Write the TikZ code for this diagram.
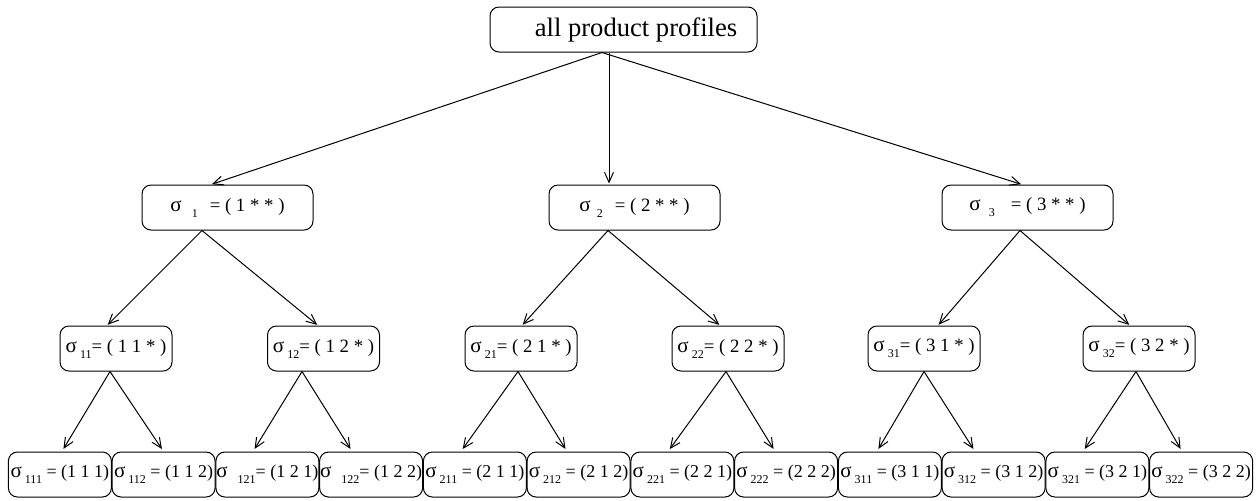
\documentclass[tikz,border=0pt]{standalone}
\usepackage{fontspec}
\setmainfont{Liberation Serif}
\usetikzlibrary{arrows.meta}
\newcommand{\idx}[1]{\raisebox{-0.7ex}{\fontsize{6}{6}\selectfont #1}}
\newcommand{\sig}{{\fontsize{10.5}{12}\selectfont σ}}
\tikzstyle{box} = [draw, rounded corners=4.5pt, inner sep=0pt, minimum height=22.5pt, font=\fontsize{9.4}{11}\selectfont]
\tikzstyle{mid} = [box, minimum width=56pt]
\tikzstyle{leaf} = [box, minimum width=51.5pt, font=\fontsize{9}{11}\selectfont]
\tikzset{
  branch/.style ={draw, line width=0.5pt, shorten >=0.5pt, -{Straight Barb[length=5pt,width=4.5pt]}}
}

\begin{document}
\begin{tikzpicture}[x=0.5pt,y=-0.5pt,line width=0.5pt]
	\useasboundingbox (0,0) rectangle (1256,500);
	\node[box, minimum width=133.5pt, font=\fontsize{13.3}{16}\selectfont] (root) at (623.5,29.5) {\hspace*{12.5pt}all product profiles};
	% first position
	\node[box, minimum width=85.5pt] (s1) at (227.5,207.5) {\sig\hspace{5pt}\idx{1}\hspace{6pt}= ( 1 * * )};
	\node[box, minimum width=85.5pt] (s2) at (634.5,207.5) {\sig\hspace{3pt}\idx{2}\hspace{6pt}= ( 2 * * )};
	\node[box, minimum width=85.5pt] (s3) at (1027.5,207.5) {\sig\hspace{4pt}\idx{3}\hspace{8pt}= ( 3 * * )};
	% second position
	\node[mid] (s11) at (116,348.5) {\sig\,\idx{11}= ( 1 1 * )};
	\node[mid] (s12) at (323.5,348.5) {\sig\,\idx{12}= ( 1 2 * )};
	\node[mid] (s21) at (521,348.5) {\sig\,\idx{21}= ( 2 1 * )};
	\node[mid] (s22) at (728,348.5) {\sig\,\idx{22}= ( 2 2 * )};
	\node[mid] (s31) at (924,348.5) {\sig\,\idx{31}= ( 3 1 * )};
	\node[mid] (s32) at (1139,348.5) {\sig\,\idx{32}= ( 3 2 * )};
	% third position
	\node[leaf] (s111) at (59.9,474.5) {\sig\,\idx{111} = (1 1 1)};
	\node[leaf] (s112) at (163.6,474.5) {\sig\,\idx{112} = (1 1 2)};
	\node[leaf] (s121) at (267.4,474.5) {\sig\hspace{5pt}\idx{121}= (1 2 1)};
	\node[leaf] (s122) at (371.1,474.5) {\sig\hspace{5pt}\idx{122}= (1 2 2)};
	\node[leaf] (s211) at (474.9,474.5) {\sig\,\idx{211} = (2 1 1)};
	\node[leaf] (s212) at (578.6,474.5) {\sig\,\idx{212} = (2 1 2)};
	\node[leaf] (s221) at (682.4,474.5) {\sig\,\idx{221} = (2 2 1)};
	\node[leaf] (s222) at (786.1,474.5) {\sig\,\idx{222} = (2 2 2)};
	\node[leaf] (s311) at (889.9,474.5) {\sig\,\idx{311} = (3 1 1)};
	\node[leaf] (s312) at (993.6,474.5) {\sig\,\idx{312} = (3 1 2)};
	\node[leaf] (s321) at (1097.4,474.5) {\sig\,\idx{321} = (3 2 1)};
	\node[leaf] (s322) at (1201.1,474.5) {\sig\,\idx{322} = (3 2 2)};

	\draw[branch] ([xshift=-10.75pt]root.south) -- ([xshift=-8.25pt]s1.north);
	\draw[branch] ([xshift=-7.25pt]root.south) -- ([xshift=-12.75pt]s2.north);
	\draw[branch] ([xshift=-10.75pt]root.south) -- ([xshift=-2.75pt]s3.north);

	\draw[branch] ([xshift=-12.75pt]s1.south) -- ([xshift=-4.5pt]s11.north);
	\draw[branch] ([xshift=-12.75pt]s1.south) -- ([xshift=-2.75pt]s12.north);
	\draw[branch] ([xshift=-13.25pt]s2.south) -- ([xshift=0.5pt]s21.north);
	\draw[branch] ([xshift=-13.25pt]s2.south) -- ([xshift=-4pt]s22.north);
	\draw[branch] ([xshift=-3.75pt]s3.south) -- ([xshift=7pt]s31.north);
	\draw[branch] ([xshift=-3.75pt]s3.south) -- ([xshift=-4.5pt]s32.north);

	\draw[branch, shorten >=1.5pt] ([xshift=-3pt]s11.south) -- ([xshift=1pt]s111.north);
	\draw[branch, shorten >=1.5pt] ([xshift=-3pt]s11.south) -- ([xshift=0pt]s112.north);
	\draw[branch, shorten >=1.5pt] ([xshift=-10.75pt]s12.south) -- ([xshift=-7.2pt]s121.north);
	\draw[branch, shorten >=1.5pt] ([xshift=-10.75pt]s12.south) -- ([xshift=-9.5pt]s122.north);
	\draw[branch, shorten >=1.5pt] ([xshift=-1.5pt]s21.south) -- ([xshift=-7pt]s211.north);
	\draw[branch, shorten >=1.5pt] ([xshift=-1.5pt]s21.south) -- ([xshift=-5.8pt]s212.north);
	\draw[branch, shorten >=1.5pt] ([xshift=-1pt]s22.south) -- ([xshift=-7.2pt]s221.north);
	\draw[branch, shorten >=1.5pt] ([xshift=-1pt]s22.south) -- ([xshift=-5.5pt]s222.north);
	\draw[branch, shorten >=1.5pt] (s31.south) -- ([xshift=-6.5pt]s311.north);
	\draw[branch, shorten >=1.5pt] (s31.south) -- ([xshift=-9.3pt]s312.north);
	\draw[branch, shorten >=1.5pt] ([xshift=-1.5pt]s32.south) -- ([xshift=-7.2pt]s321.north);
	\draw[branch, shorten >=1.5pt] ([xshift=-1.5pt]s32.south) -- ([xshift=-9.5pt]s322.north);
\end{tikzpicture}
\end{document}
